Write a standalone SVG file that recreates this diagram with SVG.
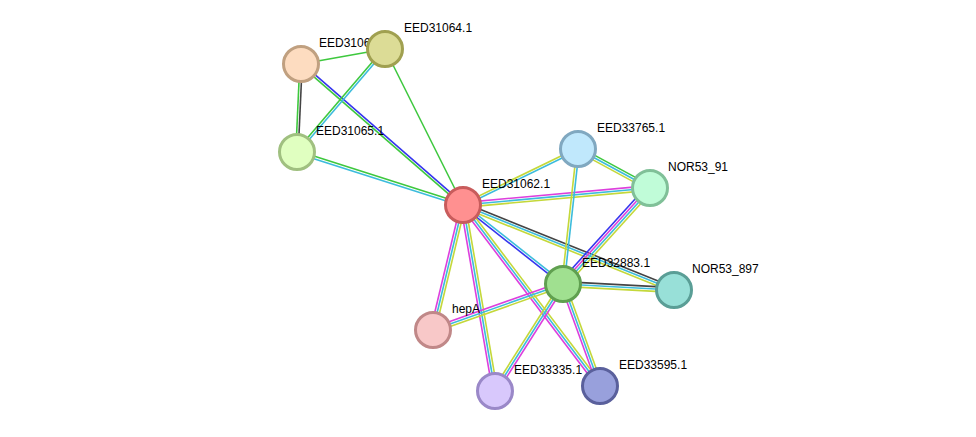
<svg xmlns="http://www.w3.org/2000/svg" width="976" height="437" viewBox="0 0 976 437">
<style>
.e line{stroke-width:1.6;fill:none}
.g{stroke:#3ec83e}.b{stroke:#3535ee}.k{stroke:#444444}.c{stroke:#3cbcdc}.m{stroke:#dd3fdd}.y{stroke:#c4d83a}
.n circle{stroke-width:3}
.n text{font-family:"Liberation Sans",Arial,sans-serif;font-size:12px;fill:#000}
</style>
<rect width="976" height="437" fill="#ffffff"/>
<g id="connectors" class="e">
<line class="g" x1="301" y1="64" x2="385" y2="49"/>
<line class="g" x1="299.8" y1="64" x2="295.8" y2="152"/>
<line class="k" x1="302.2" y1="64" x2="298.2" y2="152"/>
<line class="b" x1="301.79" y1="63.1" x2="463.79" y2="204.1"/>
<line class="g" x1="300.21" y1="64.9" x2="462.21" y2="205.9"/>
<line class="g" x1="384.09" y1="48.22" x2="296.09" y2="151.22"/>
<line class="c" x1="385.91" y1="49.78" x2="297.91" y2="152.78"/>
<line class="g" x1="385" y1="49" x2="463" y2="205"/>
<line class="g" x1="297.36" y1="150.86" x2="463.36" y2="203.86"/>
<line class="c" x1="296.64" y1="153.14" x2="462.64" y2="206.14"/>
<line class="y" x1="462.47" y1="203.92" x2="577.47" y2="147.92"/>
<line class="c" x1="463.53" y1="206.08" x2="578.53" y2="150.08"/>
<line class="m" x1="462.78" y1="202.61" x2="649.78" y2="185.61"/>
<line class="c" x1="463" y1="205" x2="650" y2="188"/>
<line class="y" x1="463.22" y1="207.39" x2="650.22" y2="190.39"/>
<line class="k" x1="463.9" y1="202.77" x2="674.9" y2="287.77"/>
<line class="c" x1="463" y1="205" x2="674" y2="290"/>
<line class="y" x1="462.1" y1="207.23" x2="673.1" y2="292.23"/>
<line class="b" x1="462.26" y1="205.94" x2="562.26" y2="284.94"/>
<line class="c" x1="463.74" y1="204.06" x2="563.74" y2="283.06"/>
<line class="m" x1="460.67" y1="204.44" x2="430.67" y2="329.44"/>
<line class="c" x1="463" y1="205" x2="433" y2="330"/>
<line class="y" x1="465.33" y1="205.56" x2="435.33" y2="330.56"/>
<line class="m" x1="460.63" y1="205.41" x2="492.63" y2="391.41"/>
<line class="c" x1="463" y1="205" x2="495" y2="391"/>
<line class="y" x1="465.37" y1="204.59" x2="497.37" y2="390.59"/>
<line class="m" x1="461.09" y1="206.45" x2="598.09" y2="387.45"/>
<line class="c" x1="463" y1="205" x2="600" y2="386"/>
<line class="y" x1="464.91" y1="203.55" x2="601.91" y2="384.55"/>
<line class="g" x1="579.14" y1="146.89" x2="651.14" y2="185.89"/>
<line class="c" x1="578" y1="149" x2="650" y2="188"/>
<line class="y" x1="576.86" y1="151.11" x2="648.86" y2="190.11"/>
<line class="y" x1="576.81" y1="148.87" x2="561.81" y2="283.87"/>
<line class="c" x1="579.19" y1="149.13" x2="564.19" y2="284.13"/>
<line class="b" x1="647.33" y1="185.58" x2="560.33" y2="281.58"/>
<line class="m" x1="649.11" y1="187.19" x2="562.11" y2="283.19"/>
<line class="c" x1="650.89" y1="188.81" x2="563.89" y2="284.81"/>
<line class="y" x1="652.67" y1="190.42" x2="565.67" y2="286.42"/>
<line class="k" x1="563.13" y1="281.6" x2="674.13" y2="287.6"/>
<line class="c" x1="563" y1="284" x2="674" y2="290"/>
<line class="y" x1="562.87" y1="286.4" x2="673.87" y2="292.4"/>
<line class="m" x1="562.2" y1="281.74" x2="432.2" y2="327.74"/>
<line class="c" x1="563" y1="284" x2="433" y2="330"/>
<line class="y" x1="563.8" y1="286.26" x2="433.8" y2="332.26"/>
<line class="y" x1="560.97" y1="282.71" x2="492.97" y2="389.71"/>
<line class="c" x1="563" y1="284" x2="495" y2="391"/>
<line class="m" x1="565.03" y1="285.29" x2="497.03" y2="392.29"/>
<line class="m" x1="560.74" y1="284.82" x2="597.74" y2="386.82"/>
<line class="c" x1="563" y1="284" x2="600" y2="386"/>
<line class="y" x1="565.26" y1="283.18" x2="602.26" y2="385.18"/>
</g>
<g id="EED31063" class="n"><circle cx="301" cy="64" r="17.5" fill="#fddcc0" stroke="#c0a080"/><text x="319" y="47">EED31063.1</text></g>
<g id="EED31064" class="n"><circle cx="385" cy="49" r="17.5" fill="#dcdc96" stroke="#a0a050"/><text x="404" y="32">EED31064.1</text></g>
<g id="EED31065" class="n"><circle cx="297" cy="152" r="17.5" fill="#e0ffc0" stroke="#a0c080"/><text x="316" y="135">EED31065.1</text></g>
<g id="EED31062" class="n"><circle cx="463" cy="205" r="17.5" fill="#ff9090" stroke="#c85c5c"/><text x="482" y="188">EED31062.1</text></g>
<g id="EED33765" class="n"><circle cx="578" cy="149" r="17.5" fill="#c0e8fc" stroke="#80a8c0"/><text x="597" y="132">EED33765.1</text></g>
<g id="NOR53_91" class="n"><circle cx="650" cy="188" r="17.5" fill="#c0fcd8" stroke="#80c098"/><text x="668" y="171">NOR53_91</text></g>
<g id="EED32883" class="n"><circle cx="563" cy="284" r="17.5" fill="#a0e090" stroke="#60a050"/><text x="582" y="267">EED32883.1</text></g>
<g id="NOR53_897" class="n"><circle cx="674" cy="290" r="17.5" fill="#98e0d8" stroke="#5a9e96"/><text x="692" y="273">NOR53_897</text></g>
<g id="hepA" class="n"><circle cx="433" cy="330" r="17.5" fill="#f8c8c8" stroke="#c08888"/><text x="452" y="313">hepA</text></g>
<g id="EED33335" class="n"><circle cx="495" cy="391" r="17.5" fill="#d8c8fc" stroke="#9a88c8"/><text x="514" y="374">EED33335.1</text></g>
<g id="EED33595" class="n"><circle cx="600" cy="386" r="17.5" fill="#98a0dc" stroke="#5a609c"/><text x="619" y="369">EED33595.1</text></g>
</svg>
